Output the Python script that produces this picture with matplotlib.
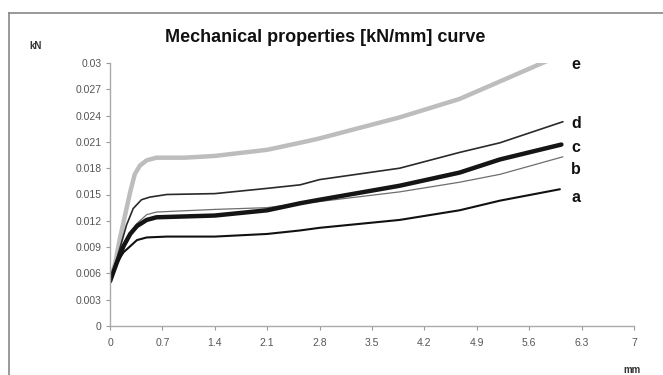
import matplotlib
matplotlib.use("Agg")
import matplotlib.pyplot as plt
from matplotlib.lines import Line2D

# ---- data ----
e_x = [0, 0.07, 0.13, 0.2, 0.27, 0.33, 0.4, 0.49, 0.62, 1.0, 1.4, 2.1, 2.54, 2.8, 3.87, 4.67, 5.21, 5.83]
e_y = [0.0051, 0.0072, 0.0099, 0.0126, 0.0153, 0.0173, 0.0183, 0.0189, 0.0192, 0.0192, 0.0194, 0.0201, 0.0209, 0.0214, 0.0238, 0.0259, 0.0279, 0.0302]

d_x = [0, 0.13, 0.22, 0.31, 0.42, 0.53, 0.76, 1.4, 2.1, 2.54, 2.8, 3.87, 4.67, 5.21, 6.05]
d_y = [0.0051, 0.0088, 0.0115, 0.0134, 0.0144, 0.0147, 0.0150, 0.0151, 0.0157, 0.0161, 0.0167, 0.0180, 0.0198, 0.0209, 0.0233]

c_x = [0, 0.09, 0.18, 0.27, 0.36, 0.49, 0.62, 1.4, 2.1, 2.54, 2.8, 3.87, 4.67, 5.21, 6.03]
c_y = [0.0051, 0.0072, 0.0091, 0.0105, 0.0114, 0.0121, 0.0124, 0.0126, 0.0132, 0.0140, 0.0144, 0.0160, 0.0175, 0.0190, 0.0207]

b_x = [0, 0.09, 0.18, 0.27, 0.36, 0.49, 0.62, 1.4, 2.1, 2.54, 2.8, 3.87, 4.67, 5.21, 6.05]
b_y = [0.0051, 0.0072, 0.0092, 0.0106, 0.0117, 0.0127, 0.0130, 0.0133, 0.0135, 0.0140, 0.0142, 0.0153, 0.0164, 0.0173, 0.0193]

a_x = [0, 0.09, 0.18, 0.27, 0.36, 0.49, 0.76, 1.4, 2.1, 2.54, 2.8, 3.87, 4.67, 5.21, 6.01]
a_y = [0.0051, 0.0072, 0.0084, 0.0091, 0.0098, 0.0101, 0.0102, 0.0102, 0.0105, 0.0109, 0.0112, 0.0121, 0.0132, 0.0143, 0.0156]

series_names = ["e", "d", "c", "b", "a"]
label_y = [0.0298, 0.0231, 0.0204, 0.0179, 0.0147]

x_ticks = [0, 0.7, 1.4, 2.1, 2.8, 3.5, 4.2, 4.9, 5.6, 6.3, 7]
x_tick_labels = ["0", "0.7", "1.4", "2.1", "2.8", "3.5", "4.2", "4.9", "5.6", "6.3", "7"]
y_ticks = [0, 0.003, 0.006, 0.009, 0.012, 0.015, 0.018, 0.021, 0.024, 0.027, 0.03]
y_tick_labels = ["0", "0.003", "0.006", "0.009", "0.012", "0.015", "0.018", "0.021", "0.024", "0.027", "0.03"]

title = "Mechanical properties [kN/mm] curve"
x_unit = "mm"
y_unit = "kN"

# ---- figure ----
narrow = ["Liberation Sans Narrow", "Liberation Sans", "DejaVu Sans"]
fig = plt.figure(figsize=(6.63, 3.75), dpi=100)
fig.patch.set_facecolor("white")

W, H = 663, 375
ax = fig.add_axes([110 / W, 1 - 326 / H, (634 - 110) / W, (326 - 63) / H])

styles = {
    "e": dict(color="#bdbdbd", lw=3.2),
    "d": dict(color="#2a2a2a", lw=1.2),
    "c": dict(color="#151515", lw=3.2),
    "b": dict(color="#6e6e6e", lw=0.9),
    "a": dict(color="#111111", lw=1.5),
}
data = {"e": (e_x, e_y), "d": (d_x, d_y), "c": (c_x, c_y), "b": (b_x, b_y), "a": (a_x, a_y)}
order = ["e", "d", "b", "c", "a"]
for name in order:
    xs, ys = data[name]
    ax.plot(xs, ys, solid_capstyle="round", solid_joinstyle="round", **styles[name])

for name, ly in zip(series_names, label_y):
    ax.text(6.16, ly, name, fontsize=11.5, fontweight="bold", family=["Liberation Sans", "DejaVu Sans"],
            ha="left", va="center", color="#111111")

ax.set_xlim(0, 7)
ax.set_ylim(0, 0.03)
ax.set_xticks(x_ticks)
ax.set_xticklabels(x_tick_labels)
ax.set_yticks(y_ticks)
ax.set_yticklabels(y_tick_labels)
for lab in ax.get_xticklabels() + ax.get_yticklabels():
    lab.set_family(narrow)
    lab.set_fontsize(7.5)
    lab.set_color("#555555")
ax.tick_params(axis="both", direction="out", length=3, width=0.8, color="#999999", pad=3)
ax.tick_params(axis="x", pad=6)

for s in ["top", "right"]:
    ax.spines[s].set_visible(False)
for s in ["left", "bottom"]:
    ax.spines[s].set_color("#aaaaaa")
    ax.spines[s].set_linewidth(1.0)

fig.text(325 / W, 1 - 38 / H, title, fontsize=13, fontweight="bold", family=narrow,
         ha="center", va="center", color="#111111")
fig.text(36 / W, 1 - 46 / H, y_unit, fontsize=7, fontweight="bold", family=narrow,
         ha="center", va="center", color="#333333")
fig.text(632 / W, 1 - 370 / H, x_unit, fontsize=7, fontweight="bold", family=narrow,
         ha="center", va="center", color="#333333")

# outer frame (left and top edges visible)
fig.add_artist(Line2D([9 / W, 9 / W], [0, 1 - 13 / H], transform=fig.transFigure, color="#888888", lw=1.2))
fig.add_artist(Line2D([9 / W, 1], [1 - 13 / H, 1 - 13 / H], transform=fig.transFigure, color="#888888", lw=1.2))

fig.savefig("out.png", dpi=100, facecolor="white")
